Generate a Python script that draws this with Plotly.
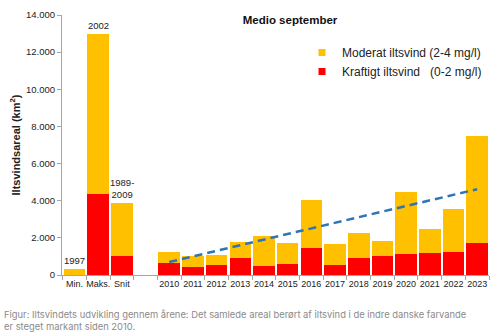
import plotly.graph_objects as go

categories = ["Min.", "Maks.", "Snit", " ", "2010", "2011", "2012", "2013", "2014", "2015",
              "2016", "2017", "2018", "2019", "2020", "2021", "2022", "2023"]
total = [350, 13000, 3900, None, 1240, 1020, 1090, 1770, 2110, 1700,
         4050, 1660, 2240, 1810, 4460, 2490, 3560, 7500]
kraftigt = [20, 4380, 1000, None, 620, 410, 550, 890, 480, 590,
            1430, 540, 910, 1050, 1110, 1160, 1240, 1720]
moderat = [None if t is None else t - k for t, k in zip(total, kraftigt)]
trend_x = ["2010", "2023"]
trend_y = [700, 4620]
bar_labels = {"Min.": "1997", "Maks.": "2002", "Snit": "1989-<br>2009"}
yticks = [0, 2000, 4000, 6000, 8000, 10000, 12000, 14000]

YELLOW = "#FFC000"
RED = "#FF0000"
FONT = "Liberation Sans, Arial, sans-serif"

W, H = 500, 336
ML, MR, MT, MB = 62, 11, 15, 61
PW, PH = W - ML - MR, H - MT - MB


def px_x(px):
    return (px - ML) / PW


def px_y(py):
    return (H - MB - py) / PH


fig = go.Figure()
fig.add_trace(go.Bar(x=categories, y=kraftigt, marker=dict(color=RED, line=dict(width=0)),
                     showlegend=False, hoverinfo="skip"))
fig.add_trace(go.Bar(x=categories, y=moderat, marker=dict(color=YELLOW, line=dict(width=0)),
                     showlegend=False, hoverinfo="skip"))
fig.add_trace(go.Scatter(x=trend_x, y=trend_y, mode="lines",
                         line=dict(color="#2E75B6", width=2.5, dash="8px,5px"),
                         showlegend=False, hoverinfo="skip"))
# legend entries
fig.add_trace(go.Scatter(x=[None], y=[None], mode="markers", name="Moderat iltsvind (2-4 mg/l)",
                         marker=dict(symbol="square", size=7, color=YELLOW), legendgroup="a"))
fig.add_trace(go.Scatter(x=[None], y=[None], mode="markers", name="Kraftigt iltsvind\u00a0\u00a0\u00a0(0-2 mg/l)",
                         marker=dict(symbol="square", size=7, color=RED), legendgroup="b"))

for cat, txt in bar_labels.items():
    i = categories.index(cat)
    fig.add_annotation(x=cat, y=total[i], text=txt, showarrow=False, yanchor="bottom",
                       yshift=1, font=dict(family=FONT, size=9.5, color="#222"))

fig.add_annotation(xref="paper", yref="paper", x=px_x(2), y=px_y(314),
                   text="Figur: Iltsvindets udvikling gennem årene: Det samlede areal berørt af iltsvind i de indre danske farvande",
                   showarrow=False, xanchor="left", yanchor="middle",
                   font=dict(family="Inter, sans-serif", size=9.4, color="#8a8a8a"))
fig.add_annotation(xref="paper", yref="paper", x=px_x(2), y=px_y(326),
                   text="er steget markant siden 2010.",
                   showarrow=False, xanchor="left", yanchor="middle",
                   font=dict(family="Inter, sans-serif", size=9.4, color="#8a8a8a"))

fig.update_layout(
    width=W, height=H,
    margin=dict(l=ML, r=MR, t=MT, b=MB, autoexpand=False),
    barmode="stack", bargap=0.09,
    separators=",.",
    paper_bgcolor="white", plot_bgcolor="white",
    font=dict(family=FONT, size=9.5, color="#222"),
    title=dict(text="<b>Medio september</b>", xref="container", yref="container",
               x=290 / W, y=1 - 20 / H, xanchor="center", yanchor="middle",
               font=dict(family=FONT, size=11.5, color="#111")),
    legend=dict(xref="paper", yref="paper", x=px_x(302), y=px_y(38),
                xanchor="left", yanchor="top", traceorder="normal", tracegroupgap=2,
                bgcolor="rgba(0,0,0,0)", font=dict(family=FONT, size=12, color="#222"),
                itemwidth=30),
    xaxis=dict(type="category", categoryorder="array", categoryarray=categories,
               showline=True, linecolor="#a6a6a6", linewidth=1, ticks="outside",
               tickson="boundaries", ticklen=4, tickcolor="#a6a6a6", showgrid=False,
               tickangle=0, automargin=False,
               tickfont=dict(family=FONT, size=9, color="#222"), fixedrange=True),
    yaxis=dict(range=[0, 14000], tickvals=yticks, tickformat=",d",
               showline=True, linecolor="#a6a6a6", linewidth=1, ticks="outside",
               ticklen=4, tickcolor="#a6a6a6", showgrid=False, zeroline=False,
               automargin=False,
               title=dict(text="<b>Iltsvindsareal (km<sup>2</sup>)</b>", standoff=3,
                          font=dict(family=FONT, size=11, color="#222")),
               tickfont=dict(family=FONT, size=9.5, color="#222"), fixedrange=True),
)

fig.write_html("out.html")
